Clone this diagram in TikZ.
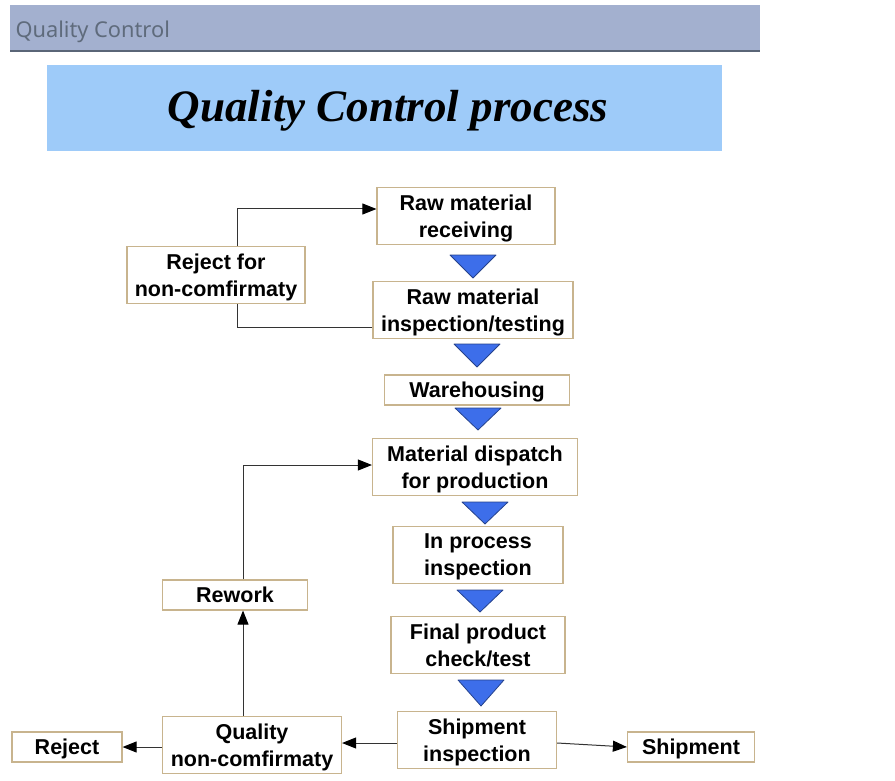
\documentclass[tikz,border=0pt]{standalone}
\usepackage{fontspec}
\setmainfont{Liberation Sans}
\newfontfamily\headfont{Noto Sans}
\newfontfamily\titlefont{Liberation Serif}
\usetikzlibrary{arrows.meta}

\definecolor{headbar}{HTML}{A3B0CF}
\definecolor{headline}{HTML}{5A6577}
\definecolor{headtext}{HTML}{5F6B7C}
\definecolor{titleband}{HTML}{9ECBF9}
\definecolor{boxline}{HTML}{C8B48E}
\definecolor{flowblue}{HTML}{3D6EEA}
\definecolor{linkgray}{HTML}{333333}

\tikzset{
	qcbox/.style={draw=boxline, line width=1.2pt, fill=white, align=center, inner sep=0pt, text depth=0pt,
		font=\fontsize{21.5}{27}\selectfont\bfseries},
	flowtri/.style={fill=flowblue, draw=flowblue!60!black, line width=0.8pt, line join=round},
	link/.style={draw=linkgray, line width=1pt, -{Triangle[length=14pt,width=11pt,color=black]}},
	plainlink/.style={draw=linkgray, line width=1pt}
}

\begin{document}
\begin{tikzpicture}[x=1pt,y=-1pt]
	\useasboundingbox (0,0) rectangle (895,781);
	
	\fill[headbar] (10,5) rectangle (760,51);
	\draw[headline, line width=2pt] (10,51) -- (760,51);
	\node[anchor=west, text=headtext, font=\headfont\fontsize{21.8}{24}\selectfont] (head) at (12,32) {Quality Control};
	
	\fill[titleband] (47,65) rectangle (722,151);
	\node[font=\titlefont\fontsize{45}{50}\selectfont\bfseries\itshape] (title) at (388,111) {Quality Control process};
	
	\node[qcbox, minimum width=178, minimum height=57] (rawrec) at (466,216) {Raw material\\receiving};
	\node[qcbox, minimum width=178, minimum height=57] (rejfor) at (216,275) {Reject for\\non-comfirmaty};
	\node[qcbox, minimum width=200, minimum height=57] (rawinsp) at (473,310) {Raw material\\inspection/testing};
	\node[qcbox, minimum width=185, minimum height=30] (wareh) at (477,390) {Warehousing};
	\node[qcbox, minimum width=205, minimum height=57] (dispatch) at (475,467) {Material dispatch\\for production};
	\node[qcbox, minimum width=170, minimum height=57] (inproc) at (478,555) {In process\\inspection};
	\node[qcbox, minimum width=145, minimum height=30] (rework) at (235,595) {Rework};
	\node[qcbox, minimum width=174, minimum height=57] (final) at (478,645) {Final product\\check/test};
	\node[qcbox, minimum width=159, minimum height=57] (shipinsp) at (477,740) {Shipment\\inspection};
	\node[qcbox, minimum width=127, minimum height=30] (ship) at (691,747) {Shipment};
	\node[qcbox, minimum width=179, minimum height=57] (qnc) at (252,745) {Quality\\non-comfirmaty};
	\node[qcbox, minimum width=110, minimum height=30] (reject) at (67,747) {Reject};
	
	\foreach \x/\t/\b in {473/255/278, 477/344/367, 478/408/430, 485/502/524, 480/590/612, 481/680/706}
	{
		\filldraw[flowtri] (\x-23,\t) -- (\x+23,\t) -- (\x,\b) -- cycle;
	}
	
	\coordinate (rejtop) at (237,209);
	\coordinate (rejbot) at (237,327);
	\coordinate (rwtop) at (243,465);
	\draw[link] (rejfor.north -| rejtop) -- (rejtop) -- (rejtop -| rawrec.west);
	\draw[plainlink] (rawinsp.west |- rejbot) -- (rejbot) -- (rejfor.south -| rejbot);
	\draw[link] (rework.north -| rwtop) -- (rwtop) -- (rwtop -| dispatch.west);
	\draw[link] (qnc.north -| rwtop) -- (rework.south -| rwtop);
	\draw[link] ([yshift=-3pt]shipinsp.west) -- ([yshift=-3pt]shipinsp.west -| qnc.east);
	\draw[link] (reject.east -| qnc.west) -- (reject.east);
	\draw[link] ([yshift=-3pt]shipinsp.east) -- (ship.west);
	
\end{tikzpicture}
\end{document}
